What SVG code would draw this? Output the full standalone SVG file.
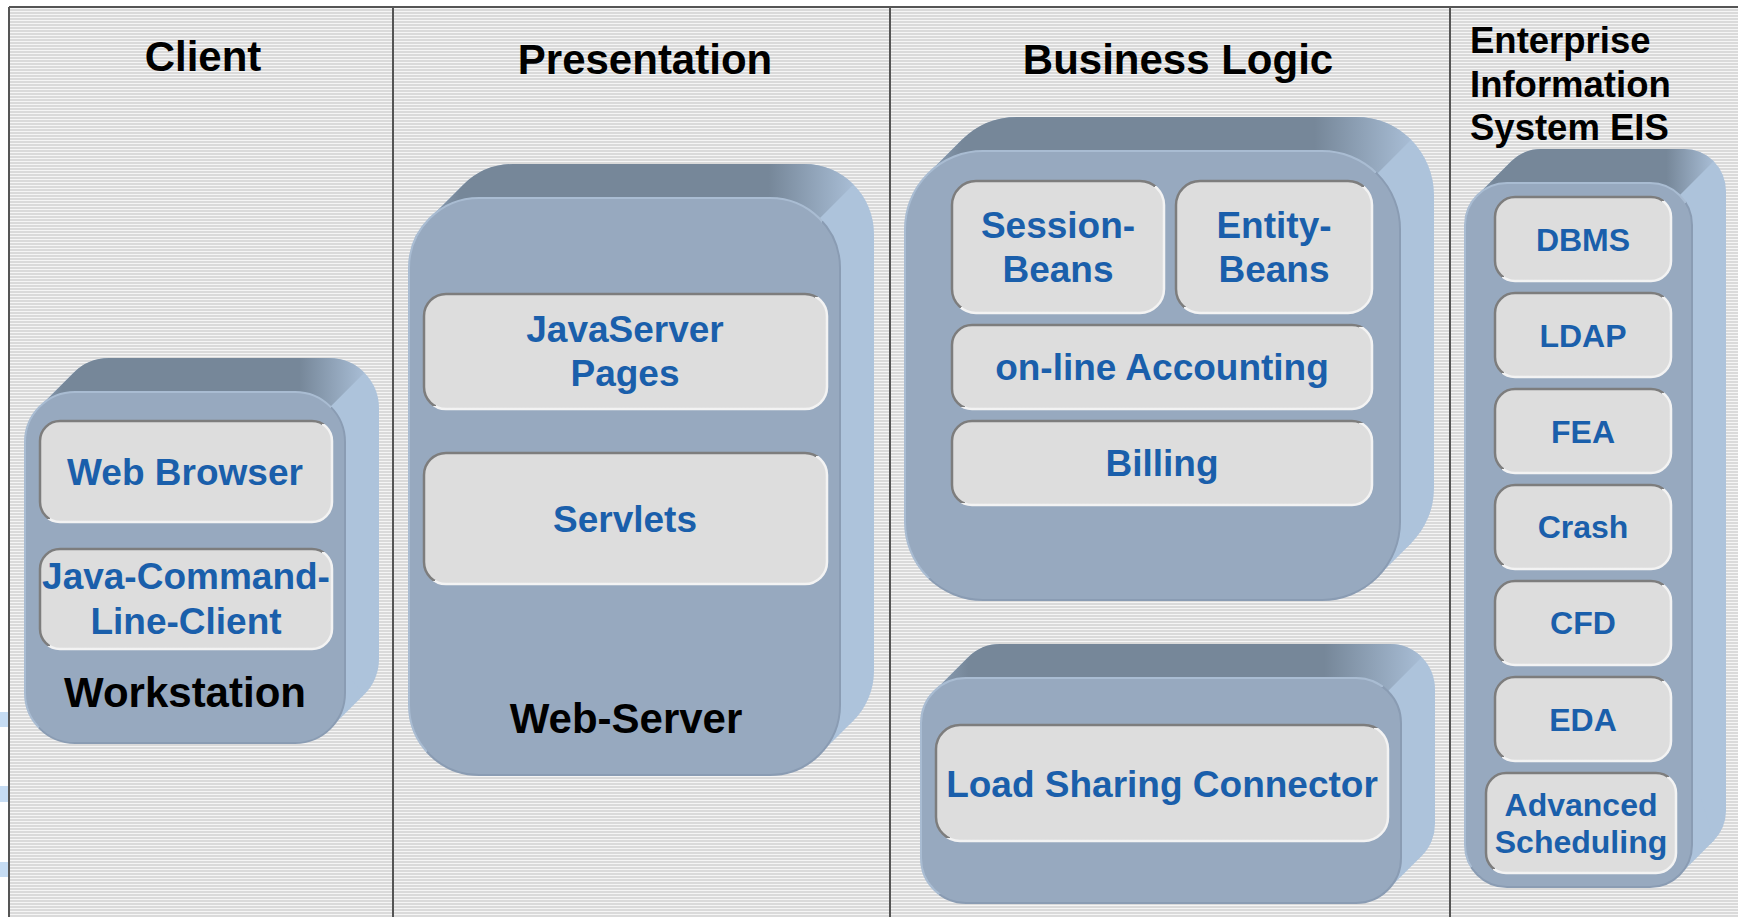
<svg xmlns="http://www.w3.org/2000/svg" width="1738" height="917" viewBox="0 0 1738 917">
<defs>
<pattern id="stripes" width="10" height="3" patternUnits="userSpaceOnUse">
<rect width="10" height="3" fill="#dadada"/>
<rect y="2" width="10" height="1" fill="#f5f5f5"/>
</pattern>
<linearGradient id="bevel" x1="0" y1="0" x2="1" y2="1">
<stop offset="0" stop-color="#7d7d7d"/><stop offset="0.5" stop-color="#7d7d7d"/><stop offset="0.5" stop-color="#f3f3f3"/><stop offset="1" stop-color="#f3f3f3"/>
</linearGradient>
<linearGradient id="rim" x1="0" y1="0" x2="1" y2="1">
<stop offset="0" stop-color="#a9bcd2"/><stop offset="0.5" stop-color="#a9bcd2"/><stop offset="0.5" stop-color="#8a9cb3"/><stop offset="1" stop-color="#8a9cb3"/>
</linearGradient>
<linearGradient id="topface" x1="0" y1="0" x2="1" y2="0">
<stop offset="0" stop-color="#8c9fb5"/><stop offset="0.07" stop-color="#768799"/><stop offset="0.8" stop-color="#768799"/><stop offset="1" stop-color="#a8bdd5"/>
</linearGradient>
</defs>
<style>
.side{fill:#adc3db}
.top{fill:url(#topface)}
.front{fill:#97a9bf;stroke:url(#rim);stroke-width:2}
.item{fill:#dddddd;stroke:url(#bevel);stroke-width:2.5}
text{font-family:"Liberation Sans",Arial,Helvetica,sans-serif;font-weight:bold;text-anchor:middle}
.lbl{fill:#1a5fab;font-size:37px}
.eis{fill:#1a5fab;font-size:32px}
.ttl{fill:#000000;font-size:42px}
.frame{stroke:#555555;stroke-width:2;fill:none}
.mark{fill:#c6dcf3}
</style>

<g id="background">
<rect width="1738" height="917" fill="#ffffff"/>
<rect x="9" y="7" width="1729" height="910" fill="url(#stripes)"/>
<rect class="mark" x="0" y="712" width="8" height="15"/>
<rect class="mark" x="0" y="786" width="8" height="16"/>
<rect class="mark" x="0" y="862" width="8" height="15"/>
<path class="frame" d="M9,7 H1738 M9,7 V917 M393,7 V917 M890,7 V917 M1450,7 V917"/>
</g>

<g id="headers">
<text class="ttl" x="203" y="71">Client</text>
<text class="ttl" x="645" y="74">Presentation</text>
<text class="ttl" x="1178" y="74">Business Logic</text>
<text class="ttl" style="text-anchor:start;font-size:36.5px" x="1470" y="53">Enterprise</text>
<text class="ttl" style="text-anchor:start;font-size:36.5px" x="1470" y="97">Information</text>
<text class="ttl" style="text-anchor:start;font-size:36.5px" x="1470" y="140">System EIS</text>
</g>

<g id="workstation">
<rect class="side" x="59" y="358" width="320" height="351" rx="50"/>
<polygon class="side" points="39.64,406.64 73.64,372.64 364.36,694.36 330.36,728.36"/>
<path class="top" d="M39.64,406.64 L73.64,372.64 A50,50 0 0 1 109,358 H329 A50,50 0 0 1 364.36,372.64 L330.36,406.64 A50,50 0 0 0 295,392 H75 A50,50 0 0 0 39.64,406.64 Z"/>
<rect class="front" x="25" y="392" width="320" height="351" rx="50"/>
<g id="web-browser">
<rect class="item" x="40" y="421" width="292" height="101" rx="20"/>
<text class="lbl" x="185" y="485">Web Browser</text>
</g>
<g id="java-cli">
<rect class="item" x="40" y="549" width="292" height="100" rx="20"/>
<text class="lbl" x="186" y="589">Java-Command-</text>
<text class="lbl" x="186" y="634">Line-Client</text>
</g>
<text class="ttl" x="185" y="707">Workstation</text>
</g>

<g id="web-server">
<rect class="side" x="443" y="164" width="431" height="577" rx="70"/>
<polygon class="side" points="429.5,218.5 463.5,184.5 853.5,720.5 819.5,754.5"/>
<path class="top" d="M429.5,218.5 L463.5,184.5 A70,70 0 0 1 513,164 H804 A70,70 0 0 1 853.5,184.5 L819.5,218.5 A70,70 0 0 0 770,198 H479 A70,70 0 0 0 429.5,218.5 Z"/>
<rect class="front" x="409" y="198" width="431" height="577" rx="70"/>
<g id="jsp">
<rect class="item" x="424" y="294" width="403" height="115" rx="22"/>
<text class="lbl" x="625" y="342">JavaServer</text>
<text class="lbl" x="625" y="386">Pages</text>
</g>
<g id="servlets">
<rect class="item" x="424" y="453" width="403" height="131" rx="22"/>
<text class="lbl" x="625" y="532">Servlets</text>
</g>
<text class="ttl" x="626" y="733">Web-Server</text>
</g>

<g id="business-logic">
<rect class="side" x="939" y="117" width="495" height="449" rx="78"/>
<polygon class="side" points="927.85,173.85 961.85,139.85 1411.15,543.15 1377.15,577.15"/>
<path class="top" d="M927.85,173.85 L961.85,139.85 A78,78 0 0 1 1017,117 H1356 A78,78 0 0 1 1411.15,139.85 L1377.15,173.85 A78,78 0 0 0 1322,151 H983 A78,78 0 0 0 927.85,173.85 Z"/>
<rect class="front" x="905" y="151" width="495" height="449" rx="78"/>
<g id="session-beans">
<rect class="item" x="952" y="181" width="212" height="132" rx="24"/>
<text class="lbl" x="1058" y="238">Session-</text>
<text class="lbl" x="1058" y="282">Beans</text>
</g>
<g id="entity-beans">
<rect class="item" x="1176" y="181" width="196" height="132" rx="24"/>
<text class="lbl" x="1274" y="238">Entity-</text>
<text class="lbl" x="1274" y="282">Beans</text>
</g>
<g id="online-accounting">
<rect class="item" x="952" y="325" width="420" height="84" rx="20"/>
<text class="lbl" x="1162" y="380">on-line Accounting</text>
</g>
<g id="billing">
<rect class="item" x="952" y="421" width="420" height="84" rx="20"/>
<text class="lbl" x="1162" y="476">Billing</text>
</g>
</g>

<g id="load-sharing">
<rect class="side" x="955" y="644" width="480" height="225" rx="45"/>
<polygon class="side" points="934.18,691.18 968.18,657.18 1421.82,855.82 1387.82,889.82"/>
<path class="top" d="M934.18,691.18 L968.18,657.18 A45,45 0 0 1 1000,644 H1390 A45,45 0 0 1 1421.82,657.18 L1387.82,691.18 A45,45 0 0 0 1356,678 H966 A45,45 0 0 0 934.18,691.18 Z"/>
<rect class="front" x="921" y="678" width="480" height="225" rx="45"/>
<g id="load-sharing-connector">
<rect class="item" x="936" y="725" width="452" height="116" rx="24"/>
<text class="lbl" x="1162" y="797">Load Sharing Connector</text>
</g>
</g>

<g id="eis">
<rect class="side" x="1499" y="149" width="227" height="704" rx="42"/>
<polygon class="side" points="1477.3,195.3 1511.3,161.3 1713.7,840.7 1679.7,874.7"/>
<path class="top" d="M1477.3,195.3 L1511.3,161.3 A42,42 0 0 1 1541,149 H1684 A42,42 0 0 1 1713.7,161.3 L1679.7,195.3 A42,42 0 0 0 1650,183 H1507 A42,42 0 0 0 1477.3,195.3 Z"/>
<rect class="front" x="1465" y="183" width="227" height="704" rx="42"/>
<g id="dbms"><rect class="item" x="1495" y="197" width="176" height="84" rx="20"/><text class="eis" x="1583" y="251">DBMS</text></g>
<g id="ldap"><rect class="item" x="1495" y="293" width="176" height="84" rx="20"/><text class="eis" x="1583" y="347">LDAP</text></g>
<g id="fea"><rect class="item" x="1495" y="389" width="176" height="84" rx="20"/><text class="eis" x="1583" y="443">FEA</text></g>
<g id="crash"><rect class="item" x="1495" y="485" width="176" height="84" rx="20"/><text class="eis" x="1583" y="538">Crash</text></g>
<g id="cfd"><rect class="item" x="1495" y="581" width="176" height="84" rx="20"/><text class="eis" x="1583" y="634">CFD</text></g>
<g id="eda"><rect class="item" x="1495" y="677" width="176" height="84" rx="20"/><text class="eis" x="1583" y="731">EDA</text></g>
<g id="advanced-scheduling"><rect class="item" x="1486" y="773" width="190" height="100" rx="20"/><text class="eis" x="1581" y="816">Advanced</text><text class="eis" x="1581" y="853">Scheduling</text></g>
</g>
</svg>
